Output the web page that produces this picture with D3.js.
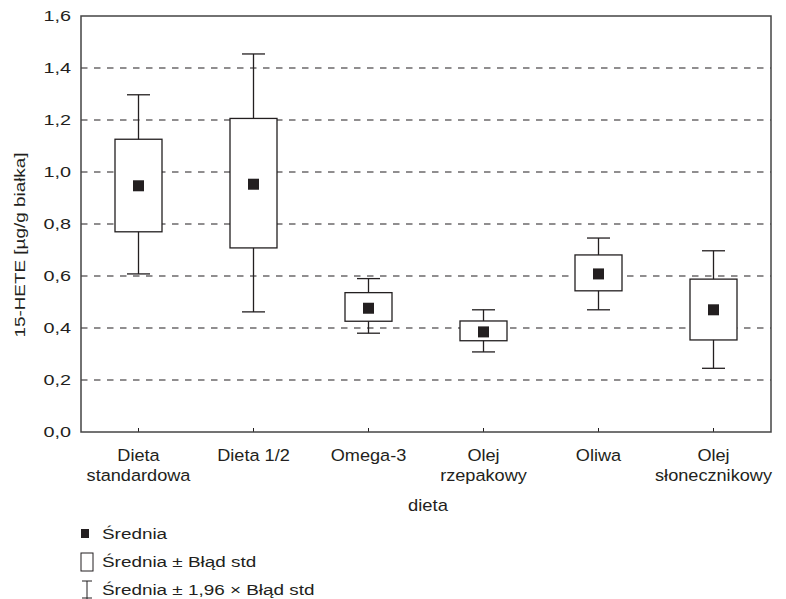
<!DOCTYPE html>
<html><head><meta charset="utf-8">
<script src="https://cdn.jsdelivr.net/npm/d3@7"></script>
<style>body{margin:0;background:#fff;} text{font-family:"Liberation Sans",Arial,sans-serif;fill:#231f20;}</style>
</head><body>
<svg id="c" width="786" height="599"></svg>
<script>
const categories = [["Dieta","standardowa"],["Dieta 1/2"],["Omega-3"],["Olej","rzepakowy"],["Oliwa"],["Olej","słonecznikowy"]];
const means    = [0.947, 0.953, 0.476, 0.385, 0.608, 0.470];
const boxLow   = [0.770, 0.708, 0.426, 0.351, 0.543, 0.354];
const boxHigh  = [1.126, 1.206, 0.536, 0.427, 0.681, 0.588];
const whiskLow = [0.608, 0.462, 0.380, 0.308, 0.470, 0.245];
const whiskHigh= [1.297, 1.454, 0.590, 0.470, 0.746, 0.697];
const yTicks = [0,0.2,0.4,0.6,0.8,1.0,1.2,1.4,1.6];
const legendLabels = ["Średnia","Średnia ± Błąd std","Średnia ± 1,96 × Błąd std"];

const ink = "#231f20";
const svg = d3.select("#c");
const L=81, R=771, T=16, B=432;
const x = d3.scaleBand().domain(d3.range(categories.length)).range([L,R]);
const y = d3.scaleLinear().domain([0,1.6]).range([B,T]);
const fmt = v => d3.format(".1f")(v).replace(".",",");

// stretched text helper
function txt(parent, str, tx, ty, opts){
  const o = Object.assign({size:15, sx:1.2, anchor:"start", rot:0, dy:"0.35em"}, opts||{});
  return parent.append("text")
    .attr("transform",`translate(${tx},${ty}) rotate(${o.rot}) scale(${o.sx},1)`)
    .attr("text-anchor",o.anchor).attr("dy",o.dy).style("font-size",o.size+"px").text(str);
}

// gridlines
svg.append("g").selectAll("line").data(yTicks.filter(v=>v>0&&v<1.6)).join("line")
  .attr("x1",L).attr("x2",R).attr("y1",d=>y(d)).attr("y2",d=>y(d))
  .attr("stroke",ink).attr("stroke-width",1.2).attr("stroke-dasharray","6.5,6.5");

// y tick labels
const yg = svg.append("g");
yTicks.forEach(v=>txt(yg, fmt(v), 71, y(v), {anchor:"end", size:15.5, sx:1.28}));

// x ticks
svg.append("g").selectAll("line").data(d3.range(categories.length)).join("line")
  .attr("x1",i=>x(i)+x.bandwidth()/2).attr("x2",i=>x(i)+x.bandwidth()/2)
  .attr("y1",B).attr("y2",B-4).attr("stroke",ink).attr("stroke-width",1);

// x labels
const xg = svg.append("g");
categories.forEach((d,i)=>{
  d.forEach((s,k)=>txt(xg, s, x(i)+x.bandwidth()/2, 455+k*20, {anchor:"middle", size:16.5, sx:1.1}));
});

// axis titles
txt(svg, "dieta", 428, 505, {anchor:"middle", size:16, sx:1.15});
txt(svg, "15-HETE [µg/g białka]", 20, 245, {anchor:"middle", size:15.5, sx:1.22, rot:-90});

// boxes
const bw=47, cw=23, ms=11;
const g = svg.append("g");
categories.forEach((c,i)=>{
  const cx = x(i)+x.bandwidth()/2;
  g.append("line").attr("x1",cx).attr("x2",cx).attr("y1",y(whiskLow[i])).attr("y2",y(whiskHigh[i])).attr("stroke",ink).attr("stroke-width",1.3);
  [whiskLow[i],whiskHigh[i]].forEach(v=>g.append("line").attr("x1",cx-cw/2).attr("x2",cx+cw/2).attr("y1",y(v)).attr("y2",y(v)).attr("stroke",ink).attr("stroke-width",1.3));
  g.append("rect").attr("x",cx-bw/2).attr("width",bw).attr("y",y(boxHigh[i])).attr("height",y(boxLow[i])-y(boxHigh[i]))
    .attr("fill","#fff").attr("stroke",ink).attr("stroke-width",1.3);
  g.append("rect").attr("x",cx-ms/2).attr("y",y(means[i])-ms/2).attr("width",ms).attr("height",ms).attr("fill",ink);
});

// frame
svg.append("rect").attr("x",L).attr("y",T).attr("width",R-L).attr("height",B-T).attr("fill","none").attr("stroke","#444").attr("stroke-width",1.5);

// legend
const lg = svg.append("g");
lg.append("rect").attr("x",81).attr("y",529).attr("width",8).attr("height",9).attr("fill",ink);
lg.append("rect").attr("x",81).attr("y",553).attr("width",12).attr("height",18).attr("fill","#fff").attr("stroke",ink).attr("stroke-width",1);
lg.append("line").attr("x1",87).attr("x2",87).attr("y1",581).attr("y2",599).attr("stroke",ink);
lg.append("line").attr("x1",82).attr("x2",92).attr("y1",581).attr("y2",581).attr("stroke",ink);
lg.append("line").attr("x1",82).attr("x2",92).attr("y1",598).attr("y2",598).attr("stroke",ink);
legendLabels.forEach((d,i)=>txt(lg, d, 102, 534+i*28, {size:15.5, sx:1.22}));
</script>
</body></html>
